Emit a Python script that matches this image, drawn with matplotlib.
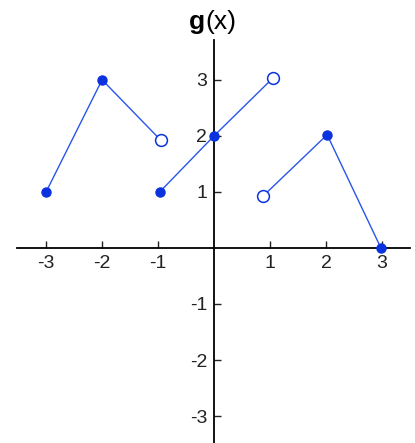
import numpy as np
import matplotlib.pyplot as plt

plt.rcParams['font.family'] = ['Liberation Sans', 'DejaVu Sans']

# tramos de la función g(x)
tramo1_x = [-3, -2, -0.95]
tramo1_y = [1, 3, 1.92]
tramo2_x = [-0.97, 0, 1.05]
tramo2_y = [1, 2, 3.03]
tramo3_x = [0.87, 2.02, 2.98]
tramo3_y = [0.92, 2.02, 0]

# puntos rellenos y abiertos
relleno_x = [-3, -2, -0.97, 0, 2.02, 2.98]
relleno_y = [1, 3, 1, 2, 2.02, 0]
abierto_x = [-0.95, 1.05, 0.87]
abierto_y = [1.92, 3.03, 0.92]

ticks = [-3, -2, -1, 1, 2, 3]

colorLinea = '#2a55ea'
colorPunto = '#0a32de'

fig = plt.figure(figsize=(4.15, 4.43), dpi=100)
ax = fig.add_axes([17/415, 0, 393/415, 403/443])
ax.set_xlim(-3.52, 3.5)
ax.set_ylim(-3.48, 3.71)

for xs, ys in [(tramo1_x, tramo1_y), (tramo2_x, tramo2_y), (tramo3_x, tramo3_y)]:
    ax.plot(xs, ys, color=colorLinea, lw=1.0, zorder=2)

ax.plot(relleno_x, relleno_y, 'o', color=colorPunto, ms=6.5, zorder=3, clip_on=False)
ax.plot(abierto_x, abierto_y, 'o', mfc='white', mec=colorPunto, mew=1.1, ms=8.5, zorder=3)

# ejes cruzando en el origen
for lado in ['top', 'right']:
    ax.spines[lado].set_visible(False)
ax.spines['left'].set_position(('data', 0))
ax.spines['bottom'].set_position(('data', 0))
ax.spines['left'].set_linewidth(1.3)
ax.spines['bottom'].set_linewidth(1.3)

ax.set_xticks(ticks)
ax.set_yticks(ticks)
ax.set_xticklabels([str(t) for t in ticks])
ax.set_yticklabels([str(t) for t in ticks])
ax.tick_params(direction='in', length=5, width=1.0, labelsize=14, pad=5, colors='#222222')
ax.patch.set_alpha(0)

fig.text(205/415, 1 - 22/443, 'g', ha='right', va='center', fontsize=19, fontweight='bold')
fig.text(205/415, 1 - 22/443, '(x)', ha='left', va='center', fontsize=19)

fig.savefig('out.png', dpi=100)
